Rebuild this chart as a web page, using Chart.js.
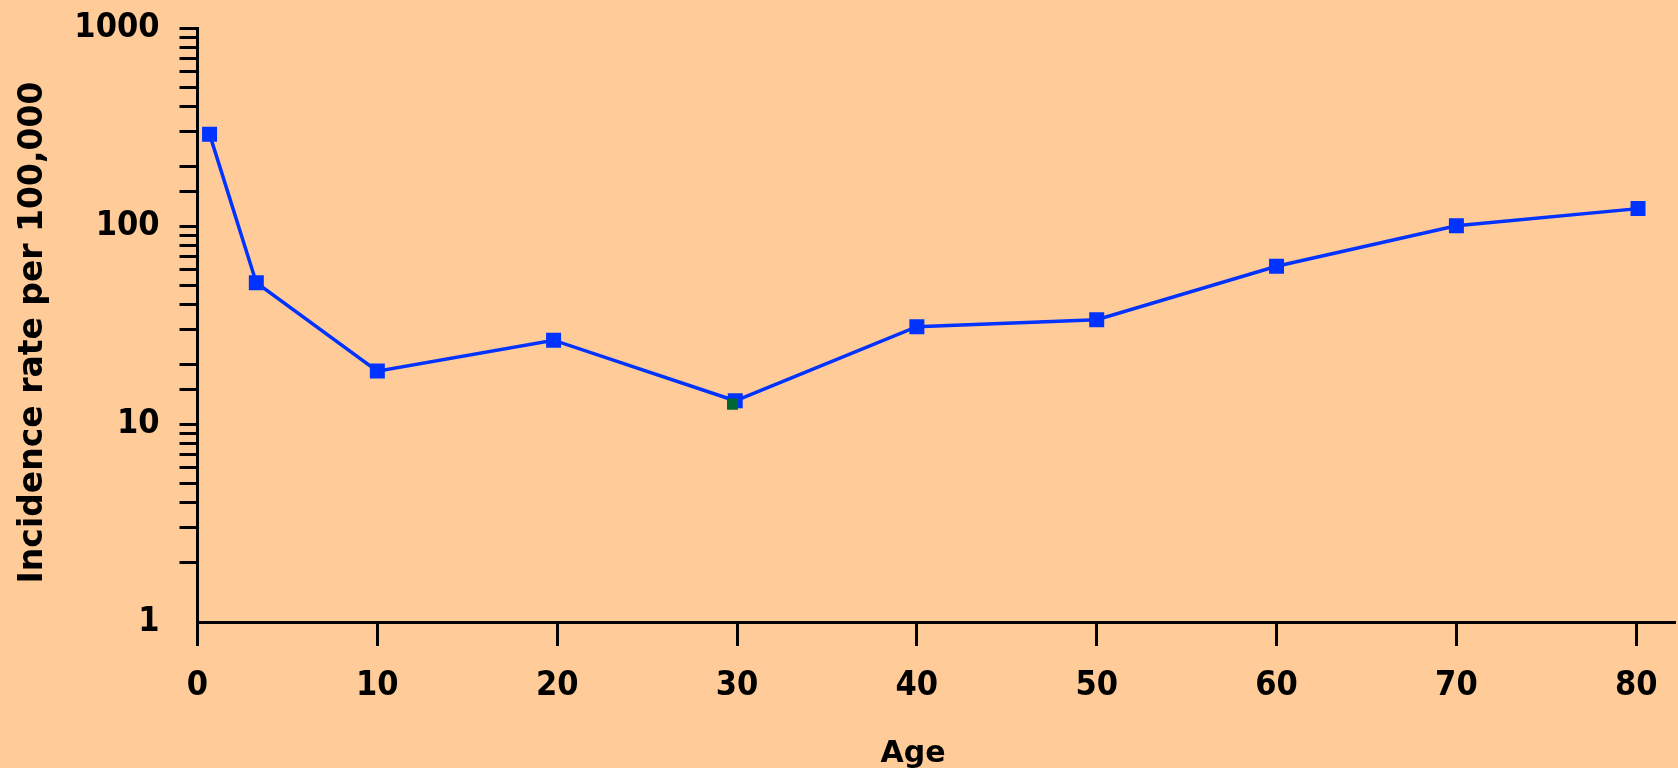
<!DOCTYPE html>
<html>
<head>
<meta charset="utf-8">
<script src="https://cdn.jsdelivr.net/npm/chart.js@4/dist/chart.umd.min.js"></script>
<style>
  html, body { margin: 0; padding: 0; background: #ffcc99; }
  #wrap { width: 1678px; height: 768px; }
</style>
</head>
<body>
<div id="wrap"><canvas id="c" width="1678" height="768"></canvas></div>
<script>
// Age (years) and incidence rate per 100,000
const ages  = [0.67, 3.27, 10.0, 19.8, 29.9, 40.0, 50.0, 60.0, 70.0, 80.1];
const rates = [291, 51.7, 18.5, 26.5, 13.1, 31.0, 33.6, 62.6, 100.3, 122.4];

// single highlighted observation
const markAges  = [29.75];
const markRates = [12.6];

const xTicks = [0, 10, 20, 30, 40, 50, 60, 70, 80];
const yLabels = [1, 10, 100, 1000];

const xTitle = 'Age';
const yTitle = 'Incidence rate per 100,000';

const FONT = '"DejaVu Sans", sans-serif';
const TICK_FONT = '"DejaVu Sans Condensed", "DejaVu Sans", sans-serif';

const axisTitles = {
  id: 'axisTitles',
  afterDraw(chart) {
    const ctx = chart.ctx;
    ctx.save();
    ctx.fillStyle = '#000';
    ctx.font = 'bold 30px ' + FONT;
    ctx.textAlign = 'center';
    ctx.textBaseline = 'alphabetic';
    ctx.fillText(xTitle, 913, 762);
    ctx.translate(42, 332.5);
    ctx.rotate(-Math.PI / 2);
    ctx.font = 'bold 33px ' + FONT;
    ctx.fillText(yTitle, 0, 0);
    ctx.restore();
  }
};

new Chart(document.getElementById('c'), {
  type: 'line',
  data: {
    datasets: [
      {
        data: markAges.map((a, i) => ({ x: a, y: markRates[i] })),
        showLine: false,
        pointStyle: 'rect',
        pointRadius: 7.8,
        pointBorderWidth: 0,
        pointBackgroundColor: '#006633',
        order: -1
      },
      {
        data: ages.map((a, i) => ({ x: a, y: rates[i] })),
        borderColor: '#0033ff',
        borderWidth: 3.5,
        tension: 0,
        pointStyle: 'rect',
        pointRadius: 10.6,
        pointBorderWidth: 0,
        pointBackgroundColor: '#0033ff',
        order: 1
      }
    ]
  },
  options: {
    responsive: false,
    animation: false,
    layout: { autoPadding: false, padding: { left: 0, right: 4, top: 28, bottom: 0 } },
    plugins: { legend: { display: false }, tooltip: { enabled: false } },
    scales: {
      x: {
        type: 'linear',
        min: 0,
        max: 82.1,
        afterFit(s) { s.height = 146; s.paddingLeft = 0; s.paddingRight = 0; },
        afterBuildTicks(s) { s.ticks = xTicks.map(v => ({ value: v })); },
        border: { display: true, color: '#000', width: 3 },
        grid: {
          drawOnChartArea: false,
          drawTicks: true,
          tickLength: 24,
          tickWidth: 3,
          tickColor: '#000',
          lineWidth: 3,
          color: '#000'
        },
        ticks: {
          includeBounds: false,
          autoSkip: false,
          maxRotation: 0,
          padding: 20,
          color: '#000',
          font: { family: TICK_FONT, size: 34, weight: 'bold' }
        }
      },
      y: {
        type: 'logarithmic',
        min: 1,
        max: 1000,
        afterFit(s) { s.width = 197.5; s.paddingTop = 0; s.paddingBottom = 0; },
        border: { display: true, color: '#000', width: 3 },
        grid: {
          drawOnChartArea: false,
          drawTicks: true,
          tickLength: 18,
          tickWidth: 3,
          lineWidth: 3,
          color: '#000',
          tickColor: c => (c.tick && c.tick.value === 1) ? 'rgba(0,0,0,0)' : '#000'
        },
        ticks: {
          autoSkip: false,
          padding: 20,
          color: '#000',
          font: { family: TICK_FONT, size: 34, weight: 'bold' },
          callback: v => yLabels.includes(v) ? String(v) : ''
        }
      }
    }
  },
  plugins: [axisTitles]
});
</script>
</body>
</html>
